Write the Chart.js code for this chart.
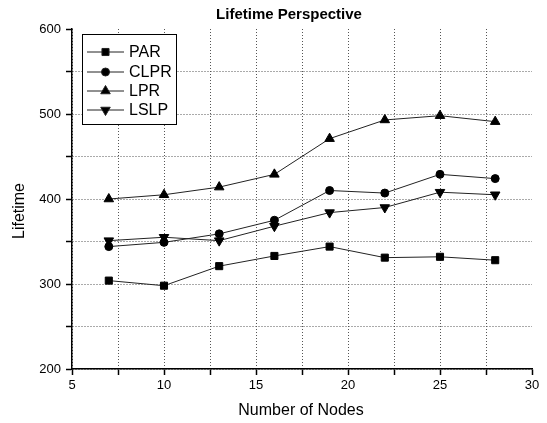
<!DOCTYPE html>
<html>
<head>
<meta charset="utf-8">
<title>Lifetime Perspective</title>
<script src="https://cdn.jsdelivr.net/npm/chart.js@4.4.3/dist/chart.umd.min.js"></script>
<style>
  html, body { margin: 0; padding: 0; background: #fff; }
  #wrap { width: 547px; height: 423px; }
</style>
</head>
<body>
<div id="wrap"><canvas id="chart" width="547" height="423"></canvas></div>
<script>
// dati
const nodes = [7, 10, 13, 16, 19, 22, 25, 28];
const par   = [304, 298, 321, 333, 344, 331, 332, 328];
const clpr  = [344, 349, 359, 375, 410, 407, 429, 424];
const lpr   = [400, 405, 414, 429, 471, 493, 498, 491];
const lslp  = [351, 355, 351, 368, 384, 390, 408, 405];

const seriesNames = ['PAR', 'CLPR', 'LPR', 'LSLP'];
const xMajorTicks = [5, 10, 15, 20, 25, 30];
const yMajorTicks = [200, 300, 400, 500, 600];

const FONT = "Arial, 'Liberation Sans', sans-serif";
Chart.defaults.font.family = FONT;
Chart.defaults.font.size = 13;
Chart.defaults.color = '#000';

function series(label, values, style, radius, rotation) {
  return {
    label,
    data: nodes.map((x, i) => ({ x, y: values[i] })),
    borderColor: '#222',
    borderWidth: 1,
    pointStyle: style,
    pointRadius: radius,
    pointRotation: rotation || 0,
    pointBackgroundColor: '#000',
    pointBorderColor: '#000',
    pointBorderWidth: 1,
    tension: 0,
    fill: false,
  };
}

// titolo, titoli degli assi e legenda disegnati a mano
const decorations = {
  id: 'decorations',
  afterDraw(chart) {
    const ctx = chart.ctx;
    ctx.save();
    ctx.fillStyle = '#000';
    ctx.textAlign = 'center';
    ctx.textBaseline = 'middle';

    ctx.font = 'bold 15px ' + FONT;
    ctx.fillText('Lifetime Perspective', 289, 15);

    ctx.font = '16px ' + FONT;
    ctx.fillText('Number of Nodes', 301, 411);

    ctx.save();
    ctx.translate(20, 211);
    ctx.rotate(-Math.PI / 2);
    ctx.fillText('Lifetime', 0, 0);
    ctx.restore();

    // legenda
    const bx = 82.5, by = 34.5, bw = 94, bh = 90;
    ctx.fillStyle = '#fff';
    ctx.fillRect(bx, by, bw, bh);
    ctx.strokeStyle = '#000';
    ctx.lineWidth = 1;
    ctx.strokeRect(bx, by, bw, bh);

    const rows = [52, 72, 91, 110];
    ctx.font = '16px ' + FONT;
    ctx.textAlign = 'left';
    chart.data.datasets.forEach((ds, i) => {
      const y = rows[i];
      ctx.strokeStyle = '#222';
      ctx.lineWidth = 1;
      ctx.beginPath();
      ctx.moveTo(87, y);
      ctx.lineTo(124, y);
      ctx.stroke();
      ctx.fillStyle = '#000';
      Chart.helpers.drawPoint(ctx, {
        pointStyle: ds.pointStyle,
        radius: ds.pointRadius,
        rotation: ds.pointRotation,
        borderWidth: 1,
      }, 105.5, y);
      ctx.fillStyle = '#000';
      ctx.fillText(seriesNames[i], 129, y + 1);
    });
    ctx.restore();
  }
};

const gridColor = (last) => (c) => (c.tick && c.tick.value === last) ? 'rgba(0,0,0,0)' : '#555';

new Chart(document.getElementById('chart'), {
  type: 'line',
  data: {
    datasets: [
      series('PAR', par, 'rect', 5),
      series('CLPR', clpr, 'circle', 4),
      series('LPR', lpr, 'triangle', 5.5),
      series('LSLP', lslp, 'triangle', 5.5, 180),
    ]
  },
  options: {
    responsive: false,
    animation: false,
    layout: { padding: { top: 29, right: 15, left: 0, bottom: 0 } },
    plugins: { legend: { display: false }, title: { display: false }, tooltip: { enabled: false } },
    scales: {
      x: {
        type: 'linear',
        min: 5, max: 30,
        afterFit: s => { s.height = 54; },
        ticks: {
          stepSize: 2.5,
          padding: 3,
          maxRotation: 0,
          callback: v => xMajorTicks.includes(v) ? v : '',
        },
        grid: { color: gridColor(30), lineWidth: 1, tickLength: 6, tickColor: '#000', tickWidth: 1.5 },
        border: { display: true, color: '#000', width: 1.5, dash: [1, 2] },
      },
      y: {
        type: 'linear',
        min: 200, max: 600,
        afterFit: s => { s.width = 72; },
        ticks: {
          stepSize: 50,
          padding: 5,
          callback: v => yMajorTicks.includes(v) ? v : '',
        },
        grid: { color: gridColor(600), lineWidth: 1, tickLength: 6, tickColor: '#000', tickWidth: 1.5 },
        border: { display: true, color: '#000', width: 1.5, dash: [1, 2] },
      }
    }
  },
  plugins: [decorations]
});
</script>
</body>
</html>
